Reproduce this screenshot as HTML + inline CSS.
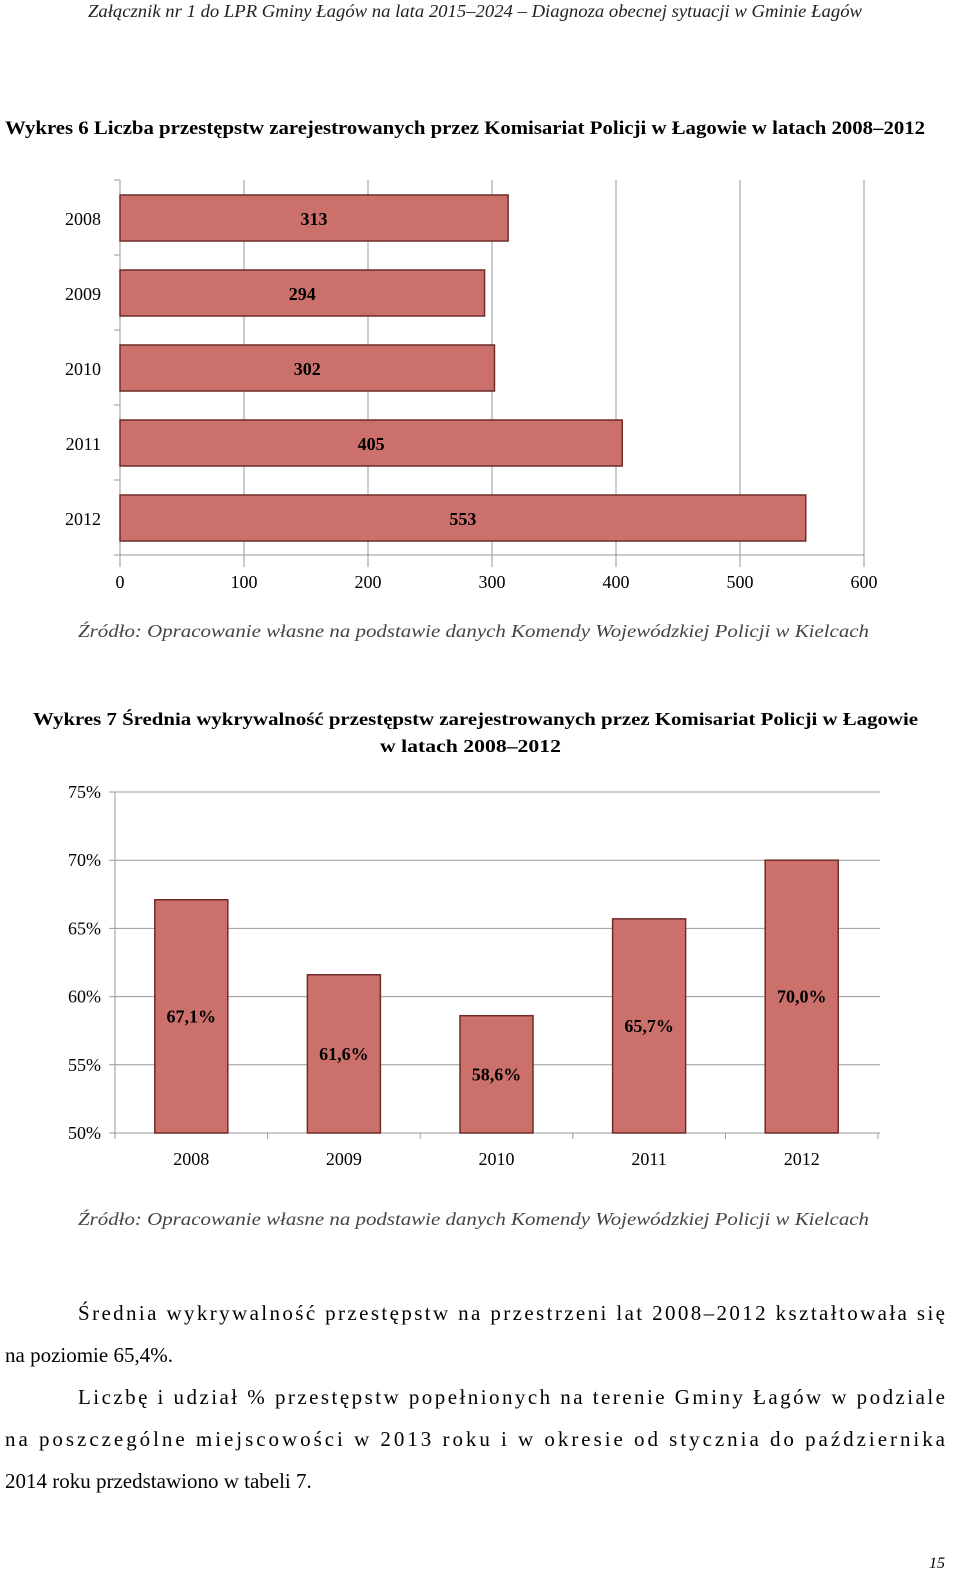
<!DOCTYPE html>
<html><head><meta charset="utf-8"><style>body{margin:0;background:#fff}svg{display:block}</style></head>
<body>
<svg id="page" width="960" height="1585" xmlns="http://www.w3.org/2000/svg" font-family="Liberation Serif, serif">
<text x="88" y="17" font-size="18" font-style="italic" textLength="774" lengthAdjust="spacingAndGlyphs" fill="#222">Załącznik nr 1 do LPR Gminy Łagów na lata 2015–2024 – Diagnoza obecnej sytuacji w Gminie Łagów</text>
<text x="5" y="134" font-size="19" font-weight="bold" textLength="920" lengthAdjust="spacingAndGlyphs">Wykres 6 Liczba przestępstw zarejestrowanych przez Komisariat Policji w Łagowie w latach 2008–2012</text>
<g id="c1"></g>
<text x="78" y="637" font-size="18" font-style="italic" fill="#444" textLength="791" lengthAdjust="spacingAndGlyphs">Źródło: Opracowanie własne na podstawie danych Komendy Wojewódzkiej Policji w Kielcach</text>
<text x="33" y="725" font-size="18" font-weight="bold" textLength="885" lengthAdjust="spacingAndGlyphs">Wykres 7 Średnia wykrywalność przestępstw zarejestrowanych przez Komisariat Policji w Łagowie</text>
<text x="380" y="752" font-size="18" font-weight="bold" textLength="181" lengthAdjust="spacingAndGlyphs">w latach 2008–2012</text>
<g id="c2"></g>
<text x="78" y="1225" font-size="18" font-style="italic" fill="#444" textLength="791" lengthAdjust="spacingAndGlyphs">Źródło: Opracowanie własne na podstawie danych Komendy Wojewódzkiej Policji w Kielcach</text>
<g font-size="21">
<text x="78" y="1320" textLength="867" lengthAdjust="spacing">Średnia wykrywalność przestępstw na przestrzeni lat 2008–2012 kształtowała się</text>
<text x="5" y="1362">na poziomie 65,4%.</text>
<text x="78" y="1404" textLength="867" lengthAdjust="spacing">Liczbę i udział % przestępstw popełnionych na terenie Gminy Łagów w podziale</text>
<text x="5" y="1446" textLength="940" lengthAdjust="spacing">na poszczególne miejscowości w 2013 roku i w okresie od stycznia do października</text>
<text x="5" y="1488">2014 roku przedstawiono w tabeli 7.</text>
</g>
<text x="945" y="1568" font-size="16" font-style="italic" text-anchor="end">15</text>
</svg>
<script>
const NS="http://www.w3.org/2000/svg";
const years1=["2008","2009","2010","2011","2012"];
const counts1=[313,294,302,405,553];
const xTicks1=[0,100,200,300,400,500,600];
const years2=["2008","2009","2010","2011","2012"];
const rates2=[67.1,61.6,58.6,65.7,70.0];
const rateLabels2=["67,1%","61,6%","58,6%","65,7%","70,0%"];
const yTicks2=[50,55,60,65,70,75];
function mk(p,t,a){const e=document.createElementNS(NS,t);for(const k in a)e.setAttribute(k,a[k]);p.appendChild(e);return e;}
const FILL="#cc706b",STROKE="#6e2c28",GRID="#999";
// chart 1
const c1=document.getElementById('c1');
const x1=v=>120+v*1.24, band1=75, top1=180;
xTicks1.forEach(t=>{const l=mk(c1,'line',{x1:x1(t),x2:x1(t),y1:top1,y2:top1+band1*years1.length+12,stroke:GRID});


const tx=mk(c1,'text',{x:x1(t),y:588,'font-size':18,'text-anchor':'middle'});tx.textContent=t;

});
for(let i=0;i<=years1.length;i++){mk(c1,'line',{x1:114,x2:120,y1:top1+i*band1,y2:top1+i*band1,stroke:GRID});}
mk(c1,'line',{x1:120,x2:864,y1:top1+band1*5,y2:top1+band1*5,stroke:GRID});
years1.forEach((y,i)=>{const yy=top1+i*band1;
const r=mk(c1,'rect',{x:120,y:yy+15,width:x1(counts1[i])-120,height:46,fill:FILL,stroke:STROKE,'stroke-width':1.5});


const lb=mk(c1,'text',{x:101,y:yy+45,'font-size':18,'text-anchor':'end'});lb.textContent=y;


const v=mk(c1,'text',{x:(120+x1(counts1[i]))/2,y:yy+45,'font-size':18,'font-weight':'bold','text-anchor':'middle'});v.textContent=counts1[i];

});
// chart 2
const c2=document.getElementById('c2');
const y2=v=>1133-(v-50)*13.64, left2=115, band2=152.6;
yTicks2.forEach(t=>{const l=mk(c2,'line',{x1:left2-6,x2:880,y1:y2(t),y2:y2(t),stroke:GRID});


const tx=mk(c2,'text',{x:101,y:y2(t)+6,'font-size':18,'text-anchor':'end'});tx.textContent=t+'%';

});
mk(c2,'line',{x1:left2,x2:left2,y1:y2(75),y2:y2(50),stroke:GRID});
for(let i=0;i<=years2.length;i++){mk(c2,'line',{x1:left2+i*band2,x2:left2+i*band2,y1:y2(50),y2:y2(50)+6,stroke:GRID});}
years2.forEach((y,i)=>{const cx=left2+(i+0.5)*band2;
const r=mk(c2,'rect',{x:cx-36.5,y:y2(rates2[i]),width:73,height:y2(50)-y2(rates2[i]),fill:FILL,stroke:STROKE,'stroke-width':1.5});


const lb=mk(c2,'text',{x:cx,y:1165,'font-size':18,'text-anchor':'middle'});lb.textContent=y;


const v=mk(c2,'text',{x:cx,y:(y2(rates2[i])+y2(50))/2+6,'font-size':18,'font-weight':'bold','text-anchor':'middle'});v.textContent=rateLabels2[i];

});
</script>
</body></html>
